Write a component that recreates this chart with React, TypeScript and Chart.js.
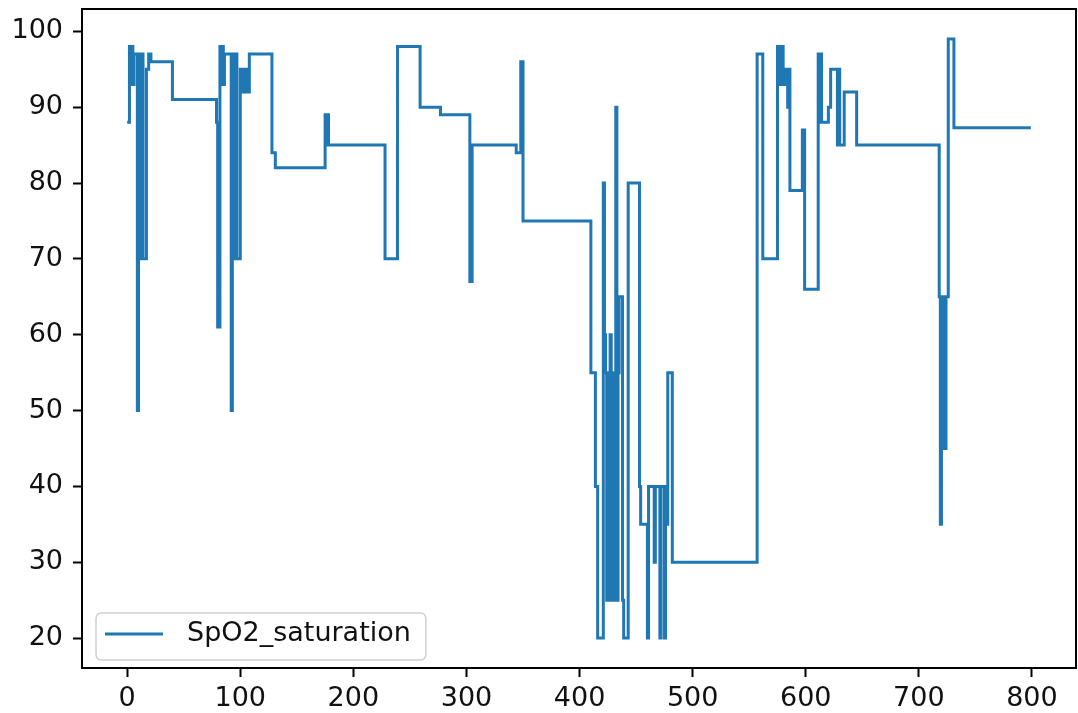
import React, { useEffect, useRef } from "react";
import { Chart, registerables } from "chart.js";

Chart.register(...registerables);

const seriesLabel = "SpO2_saturation";

// sample index where each level starts (value held until the next index)
const sampleIndex = [
  0, 2, 3, 4, 5, 6, 9, 10, 12, 13, 14, 17, 19, 21, 40,
  79, 80, 82, 83, 84, 85, 86, 92, 93, 95, 96, 97, 100, 101, 102, 103, 104, 105, 106, 107, 108,
  128, 131, 175, 176, 177, 178, 228, 239, 259, 277, 303, 305, 344, 348, 350,
  410, 414, 416, 421, 422, 423, 424, 425, 426, 427, 428, 429, 430, 431, 432, 433, 434, 435, 438, 439,
  443, 453, 454, 460, 461, 466, 467, 471, 472, 475, 476, 477, 478, 482,
  557, 562, 575, 576, 577, 578, 579, 580, 581, 582, 584, 585, 586, 597, 599,
  611, 612, 613, 614, 620, 622, 628, 629, 630, 634, 645,
  718, 719, 720, 721, 722, 723, 724, 726, 731, 799,
];

const spo2 = [
  88, 98, 93, 98, 93, 97, 50, 97, 70, 97, 70, 95, 97, 96, 91,
  88, 61, 98, 93, 98, 93, 97, 50, 97, 70, 97, 70, 95, 92, 95, 92, 95, 92, 95, 92, 97,
  84, 82, 89, 85, 89, 85, 70, 98, 90, 89, 67, 85, 84, 96, 75,
  55, 40, 20, 80, 60, 55, 25, 55, 25, 60, 25, 55, 25, 55, 90, 25, 55, 65, 25, 20,
  80, 40, 35, 20, 40, 30, 40, 20, 40, 20, 40, 35, 55, 30,
  97, 70, 98, 93, 98, 93, 98, 95, 93, 95, 90, 95, 79, 87, 66,
  97, 88, 97, 88, 90, 95, 85, 95, 85, 92, 85,
  65, 35, 65, 45, 65, 45, 65, 99, 87.3, 87.3,
];

const xTickValues = [0, 100, 200, 300, 400, 500, 600, 700, 800];
const yTickValues = [20, 30, 40, 50, 60, 70, 80, 90, 100];

const LINE_COLOR = "#1f77b4";
const TEXT_COLOR = "#111111";
const FONT_FAMILY = "'DejaVu Sans', sans-serif";
const FONT_SIZE = 27;

const framePlugin = {
  id: "frame",
  afterDatasetsDraw(chart: any) {
    const { ctx, chartArea } = chart;
    ctx.save();
    ctx.strokeStyle = "#000";
    ctx.lineWidth = 2;
    ctx.strokeRect(chartArea.left, chartArea.top, chartArea.right - chartArea.left, chartArea.bottom - chartArea.top);
    ctx.restore();
  },
};

const insideLegendPlugin = {
  id: "insideLegend",
  afterDraw(chart: any) {
    const { ctx, chartArea } = chart;
    const ds = chart.data.datasets[0];
    ctx.save();
    ctx.font = `${FONT_SIZE}px ${FONT_FAMILY}`;
    const textW = ctx.measureText(ds.label).width;
    const bx = chartArea.left + 14;
    const bh = 47;
    const by = chartArea.bottom - 8 - bh;
    const handle = 58;
    const bw = 9 + handle + 24 + textW + 15;
    const r = 6;
    ctx.beginPath();
    ctx.moveTo(bx + r, by);
    ctx.lineTo(bx + bw - r, by);
    ctx.quadraticCurveTo(bx + bw, by, bx + bw, by + r);
    ctx.lineTo(bx + bw, by + bh - r);
    ctx.quadraticCurveTo(bx + bw, by + bh, bx + bw - r, by + bh);
    ctx.lineTo(bx + r, by + bh);
    ctx.quadraticCurveTo(bx, by + bh, bx, by + bh - r);
    ctx.lineTo(bx, by + r);
    ctx.quadraticCurveTo(bx, by, bx + r, by);
    ctx.closePath();
    ctx.fillStyle = "rgba(255,255,255,0.8)";
    ctx.fill();
    ctx.strokeStyle = "#d0d0d0";
    ctx.lineWidth = 1.5;
    ctx.stroke();
    const cy = by + 21;
    ctx.strokeStyle = ds.borderColor;
    ctx.lineWidth = 3;
    ctx.beginPath();
    ctx.moveTo(bx + 9, cy);
    ctx.lineTo(bx + 9 + handle, cy);
    ctx.stroke();
    ctx.fillStyle = TEXT_COLOR;
    ctx.textBaseline = "middle";
    ctx.textAlign = "left";
    ctx.fillText(ds.label, bx + 9 + handle + 24, cy);
    ctx.restore();
  },
};

export default function App() {
  const canvasRef = useRef<HTMLCanvasElement>(null);

  useEffect(() => {
    document.body.style.margin = "0";
    const canvas = canvasRef.current;
    if (!canvas) return;
    const points = sampleIndex.map((x, i) => ({ x, y: spo2[i] }));
    const tickFont = { family: FONT_FAMILY, size: FONT_SIZE };
    const chart = new Chart(canvas, {
      type: "line",
      data: {
        datasets: [
          {
            label: seriesLabel,
            data: points,
            borderColor: LINE_COLOR,
            backgroundColor: LINE_COLOR,
            borderWidth: 3,
            pointRadius: 0,
            stepped: "before",
            fill: false,
          },
        ],
      },
      options: {
        responsive: false,
        animation: false,
        events: [],
        layout: { padding: { top: 9, right: 2, left: 0, bottom: 0 } },
        plugins: {
          legend: { display: false },
          tooltip: { enabled: false },
        },
        scales: {
          x: {
            type: "linear",
            min: -39.95,
            max: 838.95,
            afterBuildTicks: (scale: any) => {
              scale.ticks = xTickValues.map((v) => ({ value: v }));
            },
            afterFit: (scale: any) => {
              scale.height = 45;
              scale.paddingLeft = 0;
              scale.paddingRight = 0;
            },
            border: { display: false },
            grid: {
              drawOnChartArea: false,
              drawTicks: true,
              tickLength: 9,
              tickWidth: 2,
              tickColor: "#000",
            },
            ticks: {
              font: tickFont,
              color: TEXT_COLOR,
              padding: 6,
              maxRotation: 0,
              autoSkip: false,
              callback: (v: any) => String(v),
            },
          },
          y: {
            type: "linear",
            min: 16.05,
            max: 102.95,
            afterBuildTicks: (scale: any) => {
              scale.ticks = yTickValues.map((v) => ({ value: v }));
            },
            afterFit: (scale: any) => {
              scale.width = 82;
              scale.paddingTop = 0;
              scale.paddingBottom = 0;
            },
            border: { display: false },
            grid: {
              drawOnChartArea: false,
              drawTicks: true,
              tickLength: 9,
              tickWidth: 2,
              tickColor: "#000",
            },
            ticks: {
              font: tickFont,
              color: TEXT_COLOR,
              padding: 10,
              autoSkip: false,
              callback: (v: any) => String(v),
            },
          },
        },
      },
      plugins: [framePlugin, insideLegendPlugin],
    });
    return () => chart.destroy();
  }, []);

  return <canvas ref={canvasRef} width={1078} height={713} style={{ display: "block" }} />;
}
